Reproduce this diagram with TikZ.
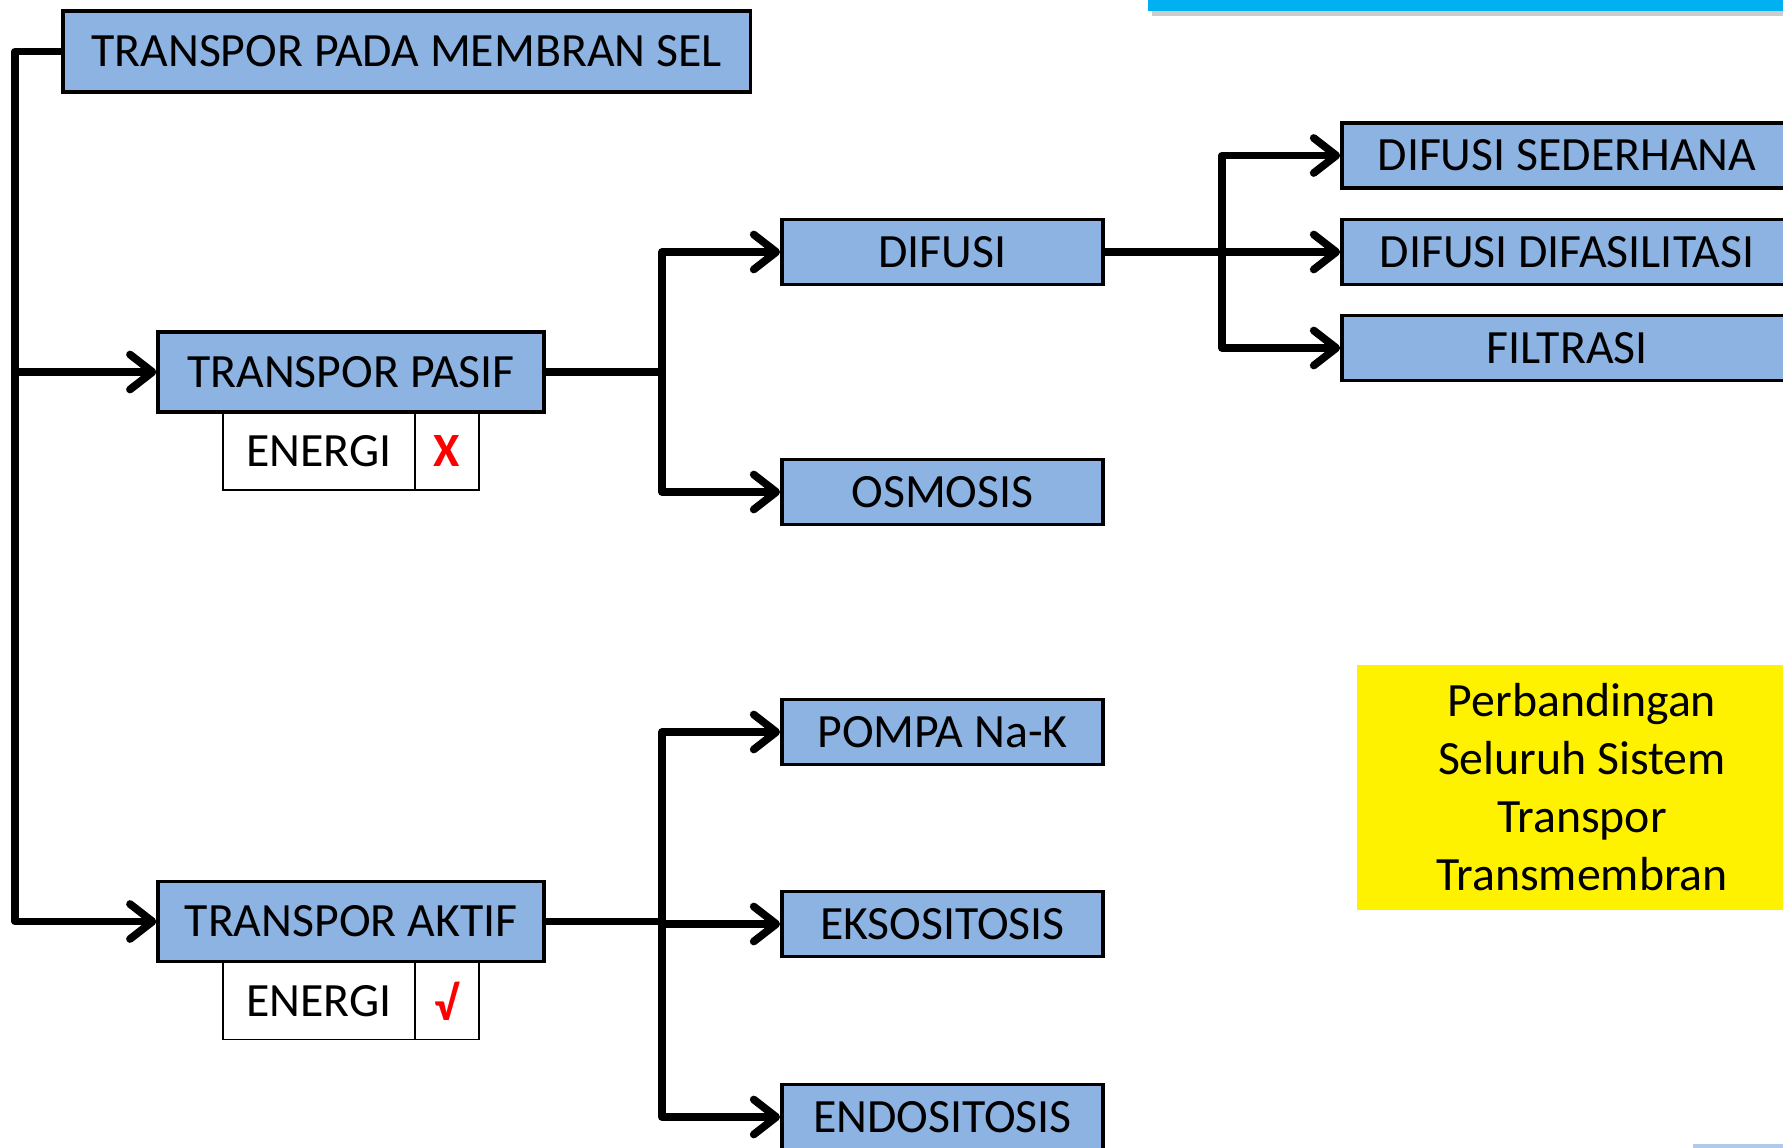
\documentclass[tikz,border=0pt]{standalone}
\usepackage{fontspec}
\setmainfont{Carlito}
\usetikzlibrary{positioning, arrows.meta}
\definecolor{boxblue}{RGB}{141,179,226}
\definecolor{barcyan}{RGB}{0,176,240}
\begin{document}
\begin{tikzpicture}[
            x=0.02cm, y=-0.02cm,
            font=\fontsize{27.2}{33}\selectfont,
            box/.style={draw, line width=2.2pt, fill=boxblue, inner sep=0pt, minimum height=1.3cm},
            energi/.style={draw, line width=0.85pt, fill=white, inner sep=0pt, outer sep=0pt, minimum height=1.54cm},
            conn/.style={line width=4.4pt, line cap=round, line join=round},
            arr/.style={conn, -{Straight Barb[length=0.45cm, width=0.7cm, line cap=round, line join=round]}}
            ]
            \useasboundingbox (0,0) rectangle (1783,1147);
            \clip (0,0) rectangle (1783,1147);

            % hiasan pinggir
            \fill[black!20] (1152,11) rectangle (1790,16);
            \fill[barcyan] (1148,0) rectangle (1790,11);
            \fill[boxblue!70] (1693,1144) rectangle (1790,1150);

            % judul
            \node[box, minimum width=13.76cm, minimum height=1.62cm] (judul) at (406.5,51.5) {TRANSPOR PADA MEMBRAN SEL};

            % transpor pasif dan aktif
            \node[box, minimum width=7.71cm, minimum height=1.6cm] (pasif) at (351,372) {TRANSPOR PASIF};
            \node[energi, minimum width=3.84cm, anchor=north west] (penergi) at (223,413) {ENERGI};
            \node[energi, minimum width=1.28cm, right=0pt of penergi] (ptanda) {\textcolor{red}{\textbf{X}}};

            \node[box, minimum width=7.71cm, minimum height=1.6cm] (aktif) at (351,921.5) {TRANSPOR AKTIF};
            \node[energi, minimum width=3.84cm, anchor=north west] (aenergi) at (223,962.5) {ENERGI};
            \node[energi, minimum width=1.28cm, right=0pt of aenergi] (atanda) {\textcolor{red}{\textbf{√}}};

            % kolom tengah
            \node[box, minimum width=6.42cm] (difusi) at (942.5,252) {DIFUSI};
            \node[box, minimum width=6.42cm] (osmosis) at (942.5,492) {OSMOSIS};
            \node[box, minimum width=6.42cm] (pompa) at (942.5,732) {POMPA Na-K};
            \node[box, minimum width=6.42cm] (ekso) at (942.5,924) {EKSOSITOSIS};
            \node[box, minimum width=6.42cm] (endo) at (942.5,1117) {ENDOSITOSIS};

            % kolom kanan
            \node[box, minimum width=9cm] (sederhana) at (1567,155.5) {DIFUSI SEDERHANA};
            \node[box, minimum width=9cm] (difasil) at (1567,252) {DIFUSI DIFASILITASI};
            \node[box, minimum width=9cm] (filtrasi) at (1567,348) {FILTRASI};

            \node[fill=yellow, minimum width=9cm, minimum height=4.9cm, align=center] (banding) at (1582,787.5)
                {Perbandingan\\Seluruh Sistem\\Transpor\\Transmembran};

            % garis penghubung
            \coordinate (spine) at (15,921.5);
            \draw[arr] (judul.west) -| (spine) -- (aktif.west);
            \draw[arr] (spine |- pasif.west) -- (pasif.west);

            \coordinate (pcabang) at (662,372);
            \draw[conn] (pasif.east) -- (pcabang);
            \draw[arr] (pcabang) |- (difusi.west);
            \draw[arr] (pcabang) |- (osmosis.west);

            \coordinate (acabang) at (662,921.5);
            \draw[conn] (aktif.east) -- (acabang);
            \draw[arr] (acabang) |- (pompa.west);
            \draw[arr] (acabang) |- (ekso.west);
            \draw[arr] (acabang) |- (endo.west);

            \coordinate (dcabang) at (1222,252);
            \draw[arr] (difusi.east) -- (difasil.west);
            \draw[arr] (dcabang) |- (sederhana.west);
            \draw[arr] (dcabang) |- (filtrasi.west);

        \end{tikzpicture}
\end{document}
